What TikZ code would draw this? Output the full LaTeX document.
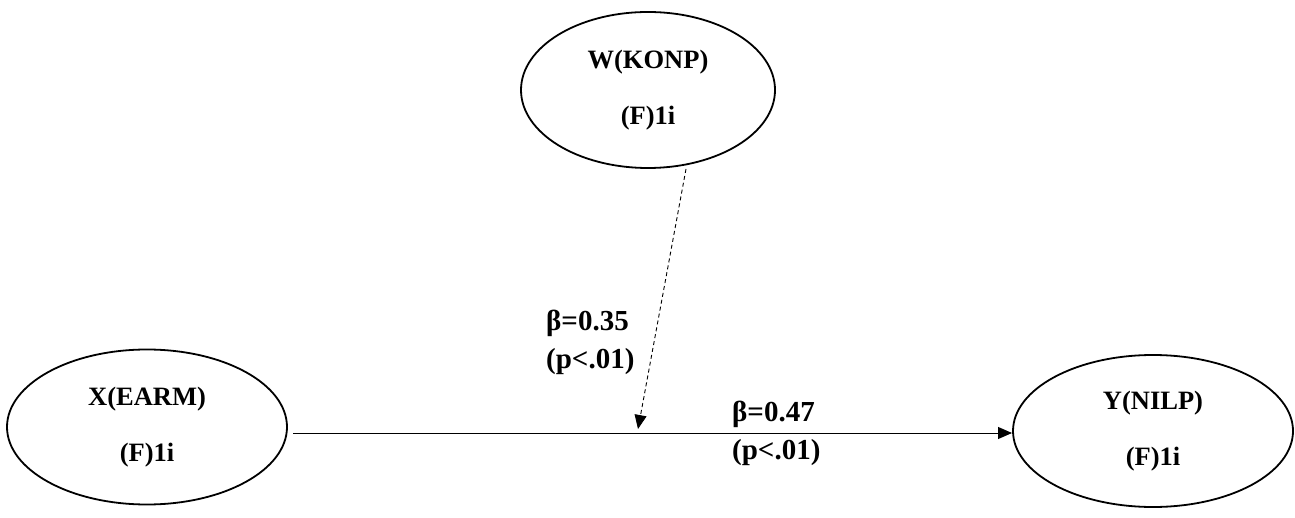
\documentclass[tikz,border=0pt]{standalone}
\usepackage{fontspec}
\setmainfont{Liberation Serif}
\usetikzlibrary{arrows.meta,shapes.geometric}
\tikzset{
  construct/.style={draw=black, line width=1.8pt, ellipse, inner sep=0pt,
    font=\fontsize{26.5}{30}\selectfont\bfseries, align=center},
  pathlabel/.style={font=\fontsize{29}{38}\selectfont\bfseries, align=left, inner sep=0pt},
  tip/.style={-{Triangle[length=14pt,width=12pt]}},
}
\begin{document}
\begin{tikzpicture}[x=1pt,y=-1pt]
\useasboundingbox (0,0) rectangle (1295,518);
\node[construct, minimum width=254pt, minimum height=156pt] (w) at (648,90)
  {W(KONP)\\[26pt](F)1i};
\node[construct, minimum width=280pt, minimum height=155pt] (x) at (147,427)
  {X(EARM)\\[26pt](F)1i};
\node[construct, minimum width=280pt, minimum height=152pt] (y) at (1153,431)
  {Y(NILP)\\[26pt](F)1i};
\coordinate (xs) at (293,433);
\coordinate (ye) at (1012,433);
\coordinate (ws) at (686,169);
\coordinate (mid) at (638,429);
\draw[line width=1pt, tip] (xs) -- (ye);
\draw[line width=0.9pt, dash pattern=on 4pt off 3pt, tip] (ws) -- (mid);
\node[pathlabel, anchor=west] (l1) at (546,342) {β=0.35\\(p<.01)};
\node[pathlabel, anchor=west] (l2) at (732,433) {β=0.47\\(p<.01)};
\end{tikzpicture}
\end{document}
